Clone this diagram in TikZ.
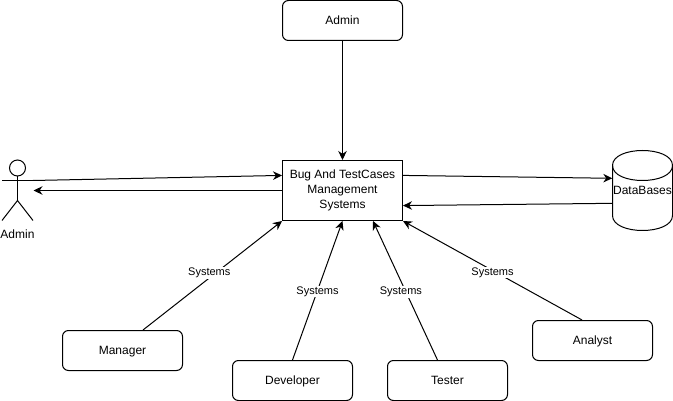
\documentclass[tikz,border=0pt]{standalone}
\usepackage{fontspec}
\setmainfont{Liberation Sans}
\usetikzlibrary{arrows.meta}
\tikzset{
  box/.style={draw,line width=1,rectangle,minimum width=120,minimum height=40,inner sep=0pt,align=center,font=\fontsize{12}{15}\selectfont,text height=9.5,text depth=1.5},
  userbox/.style={box,rounded corners=6},
  conn/.style={line width=1,-{Stealth[length=9,width=8.5]}},
  lab/.style={fill=white,inner sep=1pt,font=\fontsize{11}{13}\selectfont},
}
\begin{document}
\begin{tikzpicture}[x=1pt,y=-1pt]
\useasboundingbox (0,0) rectangle (673,401);
\node [userbox] (admintop) at (342.5,20.5) {Admin};
\node [box,minimum height=60,text height=,text depth=] (main) at (342.5,190.5) {\raisebox{-1pt}{Bug And TestCases}\\\raisebox{-1pt}{Management}\\\raisebox{-1pt}{Systems}};
\node [userbox] (manager) at (122.5,350.5) {Manager};
\node [userbox] (developer) at (292.5,380.5) {Developer};
\node [userbox] (tester) at (447.5,380.5) {Tester};
\node [userbox] (analyst) at (592.5,340.5) {Analyst};
%Cylinder
\draw [line width=1] (612.5,165.5) .. controls (612.5,145.5) and (672.5,145.5) .. (672.5,165.5) -- (672.5,215.5) .. controls (672.5,235.5) and (612.5,235.5) .. (612.5,215.5) -- cycle;
\draw [line width=1] (612.5,165.5) .. controls (612.5,185.5) and (672.5,185.5) .. (672.5,165.5);
\node [minimum width=60,minimum height=80,inner sep=0pt,font=\fontsize{12}{15}\selectfont,text height=9.5,text depth=1.5] (dbase) at (642.5,190.5) {DataBases};
%Actor
\node [draw,circle,line width=1,minimum size=16,inner sep=0pt] (head) at (17.5,168) {};
\coordinate (hip) at (17.5,200.5);
\coordinate (armleft) at (2,180.5);
\coordinate (armright) at (33,180.5);
\coordinate (legleft) at (2,220.5);
\coordinate (legright) at (33,220.5);
\coordinate (actorin) at (33.5,190.5);
\draw [line width=1] (head.south) -- (hip);
\draw [line width=1] (armleft) -- (armright);
\draw [line width=1] (legleft) -- (hip) -- (legright);
\node [font=\fontsize{12}{15}\selectfont,inner sep=0pt] (actorlabel) at (17.5,234) {Admin};
%Arrows
\draw [conn] (admintop.south) -- (main.north);
\draw [conn] (armright) -- (main.166);
\draw [conn] (main.west) -- (actorin);
\draw [conn] (main.14) -- (dbase.158);
\draw [conn] (dbase.203) -- (main.-14);
\draw [conn] (manager.45) -- node [lab,pos=0.527,xshift=-7] (labmanager) {Systems} (main.south west);
\draw [conn] (developer.north) -- node [lab,pos=0.5,yshift=-1] (labdeveloper) {Systems} (main.south);
\draw [conn] (tester.116) -- node [lab,pos=0.49,xshift=-5] (labtester) {Systems} (main.-45);
\draw [conn] (analyst.117) -- node [lab,pos=0.5,yshift=-2] (labanalyst) {Systems} (main.south east);
\end{tikzpicture}
\end{document}
